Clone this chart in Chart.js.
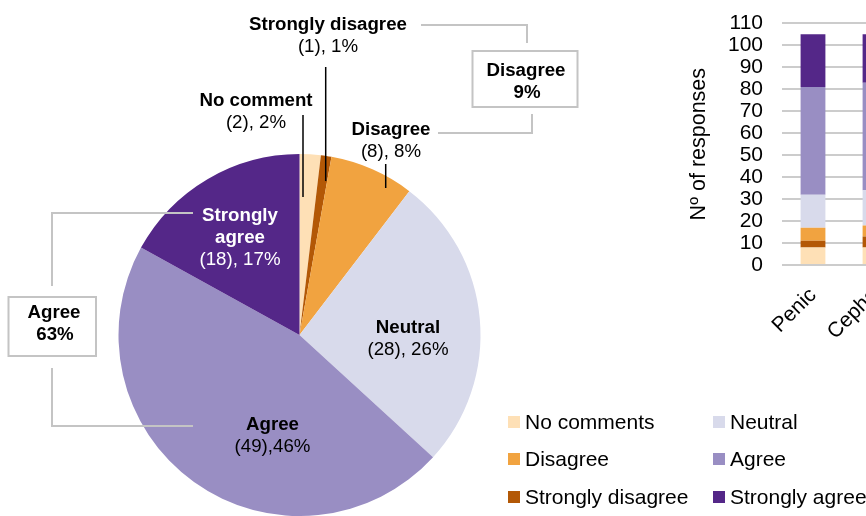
<!DOCTYPE html>
<html>
<head>
<meta charset="utf-8">
<script src="https://cdn.jsdelivr.net/npm/chart.js@4.4.0/dist/chart.umd.min.js"></script>
<style>
    html, body { margin: 0; padding: 0; width: 866px; height: 516px; overflow: hidden; background: #fff; }
    #pieCanvas { position: absolute; left: 0; top: 0; }
    #barCanvas { position: absolute; left: 680px; top: 0; }
    .item { position: absolute; height: 26px; display: flex; align-items: center; white-space: nowrap;
            font: 21px "Liberation Sans", Arial, sans-serif; color: #000; }
    .item .box { width: 12px; height: 12px; margin-right: 5px; }
</style>
</head>
<body>
<canvas id="pieCanvas" width="600" height="516"></canvas>
<canvas id="barCanvas" width="226" height="345"></canvas>
<div id="legend"></div>

<script>
    // pie: answers, clockwise from 12 o'clock
    var pieLabels = ['No comment', 'Strongly disagree', 'Disagree', 'Neutral', 'Agree', 'Strongly agree'];
    var pieCounts = [2, 1, 8, 28, 49, 18];
    var pieColors = ['#fee0b6', '#b35806', '#f1a340', '#d8daeb', '#998ec3', '#542788'];

    // grouped callouts (boxes)
    var groupNames = ['Disagree', 'Agree'];
    var groupSlices = [[1, 2], [4, 5]];

    // stacked bars
    var barCategories = ['Penic', 'Cepha'];
    var noComments = [8, 8];
    var stronglyDisagree = [3, 5];
    var disagree = [6, 5];
    var neutral = [15, 16];
    var agree = [49, 49];
    var stronglyAgree = [24, 22];
    var yTicks = [0, 10, 20, 30, 40, 50, 60, 70, 80, 90, 100, 110];

    var boldFont = 'bold 18.7px "Liberation Sans", Arial, sans-serif';
    var normFont = '18.7px "Liberation Sans", Arial, sans-serif';

    // where each slice's text goes
    var sliceText = [
        {x: 256, y: 101, sep: ', ', color: '#000', wrap: false, line: [303, 115, 197]},
        {x: 328, y: 25, sep: ', ', color: '#000', wrap: false, line: [325.7, 67, 181]},
        {x: 391, y: 130, sep: ', ', color: '#000', wrap: false, line: [385.7, 164, 188]},
        {x: 408, y: 328, sep: ', ', color: '#000', wrap: false},
        {x: 272.5, y: 425, sep: ',', color: '#000', wrap: false},
        {x: 240, y: 215.5, sep: ', ', color: '#fff', wrap: true}
    ];
    var groupBoxes = [
        {box: [472.5, 51, 105, 56], x: 526, y: 70.5,
         paths: [[[421, 25], [527, 25], [527, 43]], [[438, 133], [532, 133], [532, 114]]]},
        {box: [8.5, 297, 87.5, 59], x: 54, y: 313,
         paths: [[[193, 213], [52, 213], [52, 286]], [[52, 368], [52, 426], [193, 426]]]}
    ];

    var calloutPlugin = {
        id: 'callouts',
        afterDraw: function (chart) {
            var ctx = chart.ctx;
            var total = 0;
            for (var i in pieCounts) total += pieCounts[i];
            var pct = pieCounts.map(function (n) { return Math.round(n / total * 100); });

            ctx.save();
            ctx.textAlign = 'center';
            ctx.textBaseline = 'middle';

            // leader lines for the thin slices
            ctx.strokeStyle = '#000';
            ctx.lineWidth = 1.5;
            sliceText.forEach(function (t) {
                if (!t.line) return;
                ctx.beginPath();
                ctx.moveTo(t.line[0], t.line[1]);
                ctx.lineTo(t.line[0], t.line[2]);
                ctx.stroke();
            });

            // slice labels
            sliceText.forEach(function (t, i) {
                var y = t.y;
                var names = t.wrap ? pieLabels[i].split(' ') : [pieLabels[i]];
                ctx.fillStyle = t.color;
                ctx.font = boldFont;
                names.forEach(function (s) {
                    ctx.fillText(s, t.x, y);
                    y += 22;
                });
                ctx.font = normFont;
                ctx.fillText('(' + pieCounts[i] + ')' + t.sep + pct[i] + '%', t.x, y);
            });

            // grey boxes with their connectors
            ctx.strokeStyle = '#c4c4c4';
            ctx.lineWidth = 2;
            groupBoxes.forEach(function (g, k) {
                g.paths.forEach(function (p) {
                    ctx.beginPath();
                    ctx.moveTo(p[0][0], p[0][1]);
                    for (var j = 1; j < p.length; j++) ctx.lineTo(p[j][0], p[j][1]);
                    ctx.stroke();
                });
                ctx.strokeRect(g.box[0], g.box[1], g.box[2], g.box[3]);
                var sum = 0;
                groupSlices[k].forEach(function (s) { sum += pct[s]; });
                ctx.fillStyle = '#000';
                ctx.font = boldFont;
                ctx.fillText(groupNames[k], g.x, g.y);
                ctx.fillText(sum + '%', g.x + 1, g.y + 22);
            });
            ctx.restore();
        }
    };

    var pieChart = new Chart(document.getElementById('pieCanvas'), {
        type: 'pie',
        data: {
            labels: pieLabels,
            datasets: [{
                data: pieCounts,
                backgroundColor: pieColors,
                borderWidth: 0
            }]
        },
        options: {
            responsive: false,
            animation: false,
            devicePixelRatio: 1,
            layout: { padding: { left: 118.5, right: 119.5, top: 154, bottom: 0 } },
            plugins: { legend: { display: false }, tooltip: { enabled: false } }
        },
        plugins: [calloutPlugin]
    });

    var series = [
        {label: 'No comments', data: noComments, color: '#fee0b6'},
        {label: 'Strongly disagree', data: stronglyDisagree, color: '#b35806'},
        {label: 'Disagree', data: disagree, color: '#f1a340'},
        {label: 'Neutral', data: neutral, color: '#d8daeb'},
        {label: 'Agree', data: agree, color: '#998ec3'},
        {label: 'Strongly agree', data: stronglyAgree, color: '#542788'}
    ];

    var barChart = new Chart(document.getElementById('barCanvas'), {
        type: 'bar',
        data: {
            labels: barCategories,
            datasets: series.map(function (s) {
                return {
                    label: s.label,
                    data: s.data,
                    backgroundColor: s.color,
                    borderWidth: 0,
                    barPercentage: 0.4,
                    categoryPercentage: 1
                };
            })
        },
        options: {
            responsive: false,
            animation: false,
            devicePixelRatio: 1,
            layout: { padding: { top: 23.3, right: 0, bottom: 0, left: 0 } },
            plugins: { legend: { display: false }, tooltip: { enabled: false } },
            scales: {
                x: {
                    stacked: true,
                    grid: { display: false },
                    border: { display: false },
                    ticks: {
                        color: '#000',
                        font: { family: '"Liberation Sans", Arial, sans-serif', size: 21 },
                        minRotation: 45,
                        maxRotation: 45,
                        padding: 10
                    },
                    afterFit: function (scale) { scale.height = 80; }
                },
                y: {
                    stacked: true,
                    min: 0,
                    max: 110,
                    afterBuildTicks: function (scale) {
                        scale.ticks = yTicks.map(function (v) { return {value: v}; });
                    },
                    grid: { color: '#cccccc', lineWidth: 2, drawTicks: false },
                    border: { display: false },
                    ticks: {
                        color: '#000',
                        autoSkip: false,
                        font: { family: '"Liberation Sans", Arial, sans-serif', size: 21, lineHeight: 1 },
                        padding: 19
                    },
                    title: {
                        display: true,
                        text: 'Nº of responses',
                        color: '#000',
                        font: { family: '"Liberation Sans", Arial, sans-serif', size: 21.5, lineHeight: 1.2 },
                        padding: { top: 6, bottom: 16 }
                    },
                    afterFit: function (scale) {
                        scale.width = 102;
                        // tick padding is only wanted sideways
                        scale.paddingTop = 0;
                        scale.paddingBottom = 0;
                    }
                }
            }
        }
    });

    // legend in two columns
    var legendOrder = [0, 3, 2, 4, 1, 5];
    var legendCols = [508, 713];
    var legendRows = [422, 459, 497];
    var legend = document.getElementById('legend');
    legendOrder.forEach(function (s, k) {
        var item = document.createElement('div');
        item.className = 'item';
        item.style.left = legendCols[k % 2] + 'px';
        item.style.top = (legendRows[Math.floor(k / 2)] - 13) + 'px';
        var box = document.createElement('span');
        box.className = 'box';
        box.style.background = series[s].color;
        item.appendChild(box);
        item.appendChild(document.createTextNode(series[s].label));
        legend.appendChild(item);
    });
</script>
</body>
</html>
